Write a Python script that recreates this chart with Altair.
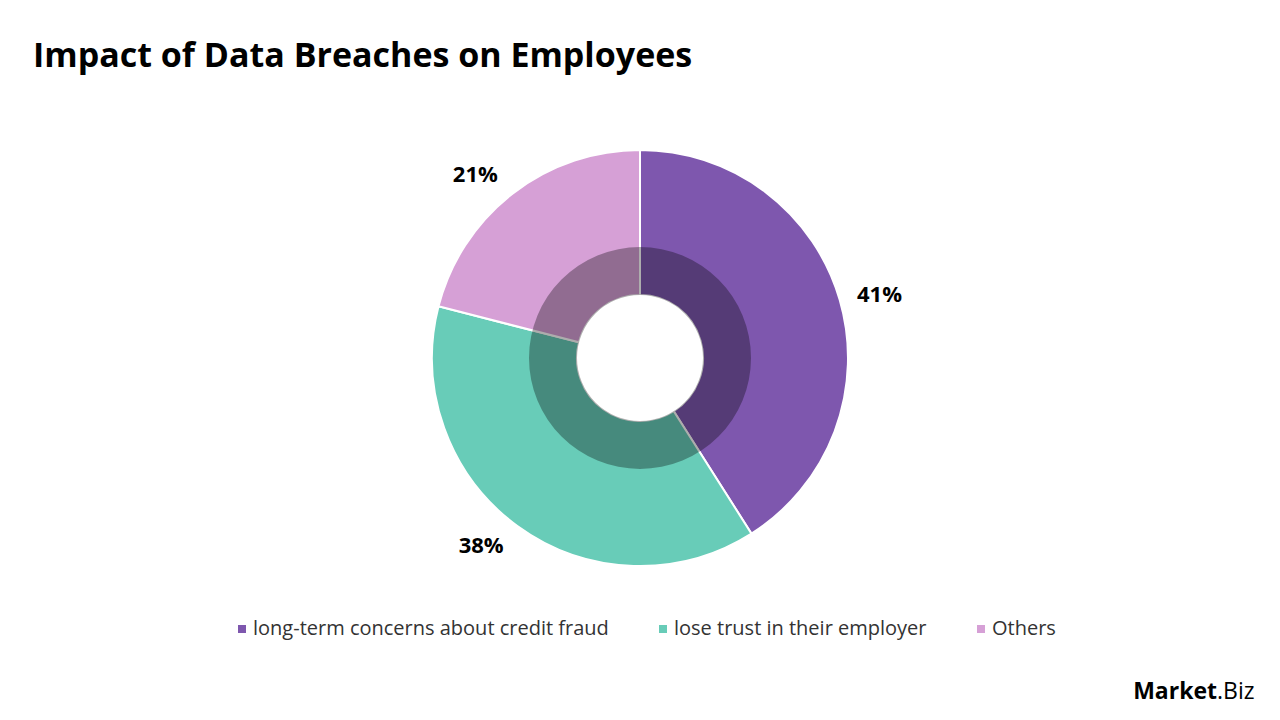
import altair as alt
import pandas as pd

categories = ["long-term concerns about credit fraud", "lose trust in their employer", "Others"]
values = [41, 38, 21]
labels = ["41%", "38%", "21%"]
colors = ["#7E57AE", "#68CCB8", "#D6A0D6"]

FONT = "Open Sans"
CX, CY = 640, 358

df = pd.DataFrame({"category": categories, "value": values, "label": labels,
                   "order": list(range(len(categories)))})

outer = alt.Chart(df).mark_arc(innerRadius=63, outerRadius=208, stroke="white", strokeWidth=2).encode(
    theta=alt.Theta("value:Q", stack=True),
    order=alt.Order("order:Q"),
    x=alt.value(CX), y=alt.value(CY),
    color=alt.Color("category:N", sort=categories,
                    scale=alt.Scale(domain=categories, range=colors),
                    legend=alt.Legend(title=None, orient="none", legendX=232, legendY=619,
                                      direction="horizontal", symbolType="square",
                                      symbolSize=64, symbolStrokeWidth=0,
                                      labelFontSize=20, labelFont=FONT, labelColor="#333333",
                                      columnPadding=44, labelLimit=500, symbolOffset=0,
                                      labelOffset=1)),
)

ring = alt.Chart(pd.DataFrame({"v": [1]})).mark_arc(
    innerRadius=63, outerRadius=111, theta=0, theta2=6.2832, color="black", opacity=0.32
).encode(x=alt.value(CX), y=alt.value(CY))

lab = alt.Chart(df).transform_window(
    cum="sum(value)", sort=[alt.SortField("order")], frame=[None, 0]
).transform_calculate(mid="datum.cum - datum.value / 2")

lab_right = lab.transform_filter("datum.mid < 50").mark_text(
    radius=226, align="left", baseline="middle", fontSize=22, fontWeight="bold", font=FONT, color="black"
).encode(theta=alt.Theta("mid:Q", scale=alt.Scale(domain=[0, 100])),
         x=alt.value(CX), y=alt.value(CY), text="label:N")

lab_left = lab.transform_filter("datum.mid >= 50").mark_text(
    radius=232, align="right", baseline="middle", fontSize=22, fontWeight="bold", font=FONT, color="black"
).encode(theta=alt.Theta("mid:Q", scale=alt.Scale(domain=[0, 100])),
         x=alt.value(CX), y=alt.value(CY), text="label:N")

title = alt.Chart(pd.DataFrame({"t": ["Impact of Data Breaches on Employees"]})).mark_text(
    align="left", baseline="middle", fontSize=34, fontWeight="bold", font=FONT, color="black"
).encode(x=alt.value(33), y=alt.value(57), text="t:N")

logo1 = alt.Chart(pd.DataFrame({"t": ["Market"]})).mark_text(
    align="right", baseline="alphabetic", fontSize=23, fontWeight="bold", font=FONT, color="black"
).encode(x=alt.value(1217), y=alt.value(699), text="t:N")
logo2 = alt.Chart(pd.DataFrame({"t": [".Biz"]})).mark_text(
    align="left", baseline="alphabetic", fontSize=23, fontWeight="normal", font=FONT, color="black"
).encode(x=alt.value(1217), y=alt.value(699), text="t:N")

chart = alt.layer(outer, ring, lab_right, lab_left, title, logo1, logo2).properties(
    width=1280, height=720, padding=0, autosize=alt.AutoSizeParams(type="none"),
    background="white"
).configure_view(stroke=None)

chart.save("out.html", embed_options={"renderer": "svg", "actions": False})
